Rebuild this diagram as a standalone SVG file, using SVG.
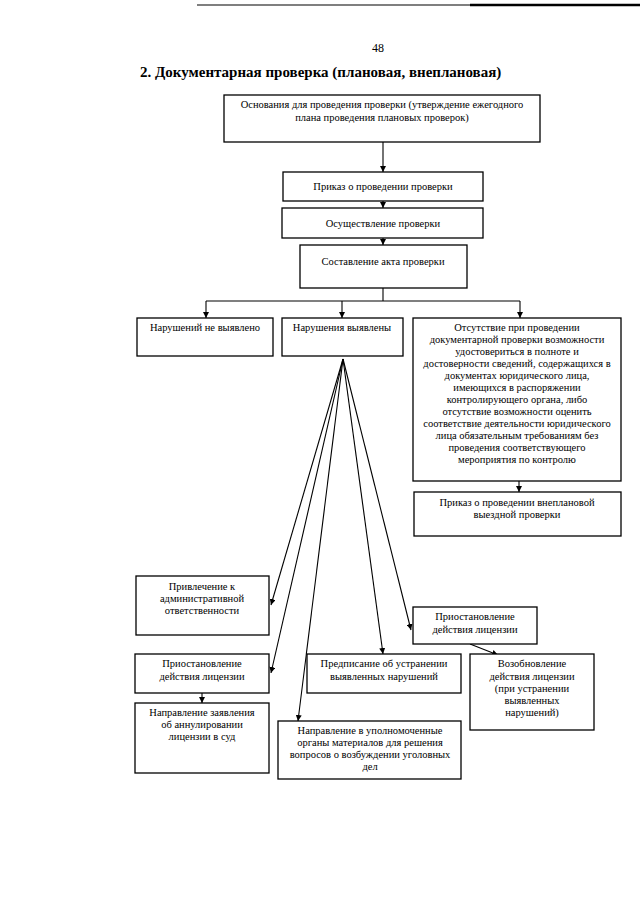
<svg xmlns="http://www.w3.org/2000/svg" width="640" height="905" viewBox="0 0 640 905">
<defs>
<marker id="ah" viewBox="0 0 10 10" refX="10" refY="5" markerWidth="6" markerHeight="6" markerUnits="userSpaceOnUse" orient="auto">
<path d="M0,0 L10,5 L0,10 z" fill="#000"/>
</marker>
<style>
.b{fill:#fff;stroke:#000;stroke-width:1.3}
.t{font-family:"Liberation Serif","Times New Roman",serif;font-size:10.5px;fill:#000;text-anchor:middle}
.c{fill:none;stroke:#000;stroke-width:1.1}
.a{marker-end:url(#ah)}
</style>
</defs>
<rect width="640" height="905" fill="#fff"/>
<line x1="197" y1="5" x2="640" y2="5" stroke="#000" stroke-width="1.2"/>
<line x1="470" y1="5" x2="640" y2="5" stroke="#000" stroke-width="2.6"/>
<text x="378" y="52" style="font-family:'Liberation Serif',serif;font-size:12px;text-anchor:middle">48</text>
<text x="140" y="77" style="font-family:'Liberation Serif',serif;font-size:15px;font-weight:bold">2. Документарная проверка (плановая, внеплановая)</text>

<g id="connectors">
<path class="c a" d="M383,142 V172"/>
<path class="c a" d="M383,201 V208"/>
<path class="c a" d="M383,238 V245"/>
<path class="c" d="M383,288 V301 M206,301 H520"/>
<path class="c a" d="M206,301 V318"/>
<path class="c a" d="M342,301 V318"/>
<path class="c a" d="M520,301 V318"/>
<path class="c a" d="M519,481 V492"/>
<path class="c a" d="M343,359 L271,605"/>
<path class="c a" d="M343,359 L271,673"/>
<path class="c a" d="M343,359 L298,721"/>
<path class="c a" d="M343,359 L383,654"/>
<path class="c a" d="M343,359 L411,630"/>
<path class="c a" d="M470,644 L498,655"/>
<path class="c a" d="M202,693 V703"/>
</g>

<g id="n1"><rect class="b" x="224" y="95" width="316" height="47"/>
<text class="t" x="382" y="108">Основания для проведения проверки (утверждение ежегодного</text>
<text class="t" x="382" y="121">плана проведения плановых проверок)</text></g>

<g id="n2"><rect class="b" x="283" y="172" width="200" height="29"/>
<text class="t" x="383" y="190">Приказ о проведении проверки</text></g>

<g id="n3"><rect class="b" x="282" y="208" width="201" height="30"/>
<text class="t" x="383" y="227">Осуществление проверки</text></g>

<g id="n4"><rect class="b" x="300" y="245" width="167" height="43"/>
<text class="t" x="383" y="265">Составление акта проверки</text></g>

<g id="n5"><rect class="b" x="137" y="318" width="136" height="38"/>
<text class="t" x="205" y="331">Нарушений не выявлено</text></g>

<g id="n6"><rect class="b" x="282" y="318" width="121" height="38"/>
<text class="t" x="342" y="331">Нарушения выявлены</text></g>

<g id="n7"><rect class="b" x="413" y="318" width="208" height="163"/>
<text class="t" x="517" y="331">Отсутствие при проведении</text>
<text class="t" x="517" y="343">документарной проверки возможности</text>
<text class="t" x="517" y="355">удостовериться в полноте и</text>
<text class="t" x="517" y="367">достоверности сведений, содержащихся в</text>
<text class="t" x="517" y="379">документах юридического лица,</text>
<text class="t" x="517" y="391">имеющихся в распоряжении</text>
<text class="t" x="517" y="403">контролирующего органа, либо</text>
<text class="t" x="517" y="415">отсутствие  возможности оценить</text>
<text class="t" x="517" y="427">соответствие деятельности юридического</text>
<text class="t" x="517" y="439">лица обязательным требованиям без</text>
<text class="t" x="517" y="451">проведения соответствующего</text>
<text class="t" x="517" y="463">мероприятия по контролю</text></g>

<g id="n8"><rect class="b" x="414" y="492" width="207" height="44"/>
<text class="t" x="517" y="506">Приказ о проведении внеплановой</text>
<text class="t" x="517" y="518">выездной проверки</text></g>

<g id="n9"><rect class="b" x="136" y="576" width="133" height="59"/>
<text class="t" x="202" y="590">Привлечение к</text>
<text class="t" x="202" y="602">административной</text>
<text class="t" x="202" y="614">ответственности</text></g>

<g id="n10"><rect class="b" x="413" y="607" width="124" height="37"/>
<text class="t" x="475" y="620">Приостановление</text>
<text class="t" x="475" y="633">действия лицензии</text></g>

<g id="n11"><rect class="b" x="135" y="654" width="134" height="39"/>
<text class="t" x="202" y="667">Приостановление</text>
<text class="t" x="202" y="680">действия лицензии</text></g>

<g id="n12"><rect class="b" x="307" y="654" width="154" height="39"/>
<text class="t" x="384" y="667">Предписание об устранении</text>
<text class="t" x="384" y="680">выявленных нарушений</text></g>

<g id="n13"><rect class="b" x="470" y="654" width="124" height="76"/>
<text class="t" x="532" y="667">Возобновление</text>
<text class="t" x="532" y="680">действия лицензии</text>
<text class="t" x="532" y="692">(при устранении</text>
<text class="t" x="532" y="704">выявленных</text>
<text class="t" x="532" y="716">нарушений)</text></g>

<g id="n14"><rect class="b" x="135" y="703" width="134" height="70"/>
<text class="t" x="202" y="716">Направление заявления</text>
<text class="t" x="202" y="728">об аннулировании</text>
<text class="t" x="202" y="740">лицензии в суд</text></g>

<g id="n15"><rect class="b" x="278" y="721" width="183" height="58"/>
<text class="t" x="370" y="734">Направление в уполномоченные</text>
<text class="t" x="370" y="746">органы материалов для решения</text>
<text class="t" x="370" y="758">вопросов о возбуждении уголовных</text>
<text class="t" x="370" y="770">дел</text></g>
</svg>
